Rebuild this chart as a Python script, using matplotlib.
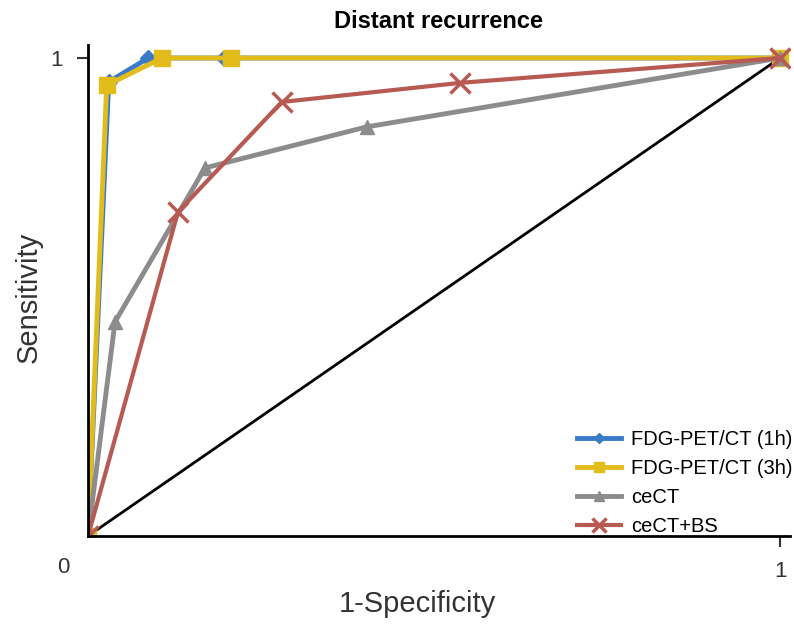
import matplotlib
matplotlib.use("Agg")
import matplotlib.pyplot as plt

plt.rcParams["font.family"] = ["Liberation Sans", "DejaVu Sans"]

# ROC points (1-specificity, sensitivity)
pet1_x = [0, 0.03, 0.087, 0.197, 1]
pet1_y = [0, 0.95, 1.0, 1.0, 1]
pet3_x = [0, 0.027, 0.107, 0.207, 1]
pet3_y = [0, 0.943, 1.0, 1.0, 1]
cect_x = [0, 0.039, 0.169, 0.403, 1]
cect_y = [0, 0.448, 0.77, 0.856, 1]
bs_x = [0, 0.130, 0.280, 0.538, 1]
bs_y = [0, 0.678, 0.908, 0.948, 1]
labels = ["FDG-PET/CT (1h)", "FDG-PET/CT (3h)", "ceCT", "ceCT+BS"]

blue, yellow, grey, red = "#3A7BC8", "#E2BC1B", "#8C8C8C", "#B65A52"

fig = plt.figure(figsize=(7.94, 6.29), dpi=100)
ax = fig.add_axes([88 / 794, 1 - 536 / 629, 702 / 794, 491 / 629])

ax.plot([0, 1], [0, 1], color="black", lw=2)
ax.plot(pet1_x, pet1_y, color=blue, lw=3.5, marker="D", ms=8, label=labels[0])
ax.plot(pet3_x, pet3_y, color=yellow, lw=3.5, marker="s", ms=11, label=labels[1])
ax.plot(cect_x, cect_y, color=grey, lw=3.5, marker="^", ms=10, label=labels[2])
ax.plot(bs_x, bs_y, color=red, lw=3, marker="x", ms=14, mew=2.5, label=labels[3])

ax.set_xlim(0, 702 / 692)
ax.set_ylim(0, 491 / 478)
for s in ("top", "right"):
    ax.spines[s].set_visible(False)
ax.spines["left"].set_linewidth(2)
ax.spines["bottom"].set_linewidth(2)
ax.set_xticks([1])
ax.set_yticks([1])
ax.set_xticklabels(["1"])
ax.set_yticklabels(["1"])
ax.tick_params(labelsize=16, width=1.5, length=8, colors="#333333", pad=10)
ax.text(-0.035, -0.065, "0", fontsize=16, color="#333333", ha="center", va="center",
        transform=ax.transData, clip_on=False)

ax.set_xlabel("1-Specificity", fontsize=21, color="#333333")
ax.set_ylabel("Sensitivity", fontsize=21, color="#333333")
ax.xaxis.set_label_coords((417 - 88) / 702, -(590 - 536) / 491)
ax.yaxis.set_label_coords(-(88 - 43) / 702, (536 - 297) / 491)
ax.set_title("Distant recurrence", fontsize=17, fontweight="bold", pad=12)

ax.legend(loc="lower right", bbox_to_anchor=(1.03, -0.037), frameon=False, fontsize=14.5,
          handlelength=2.2, labelspacing=0.5, markerscale=0.7, handletextpad=0.5)

fig.savefig("out.png", dpi=100)
